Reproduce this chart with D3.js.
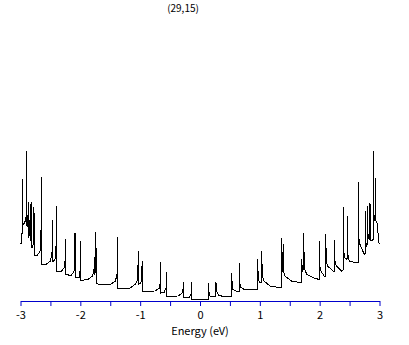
<!DOCTYPE html>
<html>
<head>
<meta charset="utf-8">
<script src="https://cdn.jsdelivr.net/npm/d3@7"></script>
<style>
  body { margin: 0; background: #fff; }
  text { font-family: "Noto Sans CJK JP", "DejaVu Sans", sans-serif; }
</style>
</head>
<body>
<div id="chart"></div>
<script>
// density of states (energy in eV, dos in arbitrary units)
const title = "(29,15)"
const xLabelText = "Energy (eV)"

const energy = [
  -3.000, -2.983, -2.975, -2.970, -2.965, -2.942, -2.917, -2.903, -2.897, -2.891,
  -2.878, -2.870, -2.865, -2.845, -2.836, -2.831, -2.820, -2.813, -2.808, -2.783,
  -2.775, -2.768, -2.724, -2.674, -2.658, -2.653, -2.646, -2.574, -2.507, -2.474,
  -2.465, -2.460, -2.424, -2.407, -2.398, -2.393, -2.323, -2.265, -2.248, -2.245,
  -2.240, -2.156, -2.106, -2.094, -2.089, -2.084, -2.022, -2.001, -1.994, -1.989,
  -1.872, -1.805, -1.772, -1.767, -1.762, -1.747, -1.740, -1.733, -1.671, -1.504,
  -1.421, -1.387, -1.382, -1.377, -1.170, -1.086, -1.041, -1.031, -1.025, -0.986,
  -0.964, -0.958, -0.752, -0.685, -0.664, -0.657, -0.652, -0.602, -0.563, -0.557,
  -0.552, -0.368, -0.301, -0.284, -0.279, -0.272, -0.184, -0.142, -0.139, -0.134,
  0.139, 0.139, 0.147, 0.167, 0.264, 0.267, 0.276, 0.309, 0.368, 0.530,
  0.530, 0.538, 0.552, 0.602, 0.657, 0.657, 0.665, 0.685, 0.752, 0.964,
  0.964, 0.974, 0.994, 1.031, 1.031, 1.041, 1.070, 1.170, 1.366, 1.366,
  1.374, 1.387, 1.392, 1.401, 1.421, 1.533, 1.700, 1.700, 1.710, 1.727,
  1.733, 1.743, 1.783, 1.894, 1.994, 1.994, 2.002, 2.022, 2.078, 2.098,
  2.101, 2.111, 2.134, 2.228, 2.245, 2.245, 2.256, 2.281, 2.368, 2.395,
  2.395, 2.403, 2.424, 2.457, 2.462, 2.470, 2.495, 2.619, 2.646, 2.646,
  2.654, 2.674, 2.746, 2.758, 2.758, 2.766, 2.783, 2.796, 2.796, 2.805,
  2.825, 2.841, 2.841, 2.850, 2.858, 2.892, 2.897, 2.903, 2.917, 2.925,
  2.925, 2.932, 2.942, 2.970, 2.980, 3.000
]

const dos = [
  55, 57, 60, 120, 74, 76, 79, 85, 148, 73,
  74, 97, 62, 66, 95, 59, 62, 97, 52, 56,
  92, 44, 44, 48, 55, 122, 35, 35, 38, 45,
  79, 38, 40, 50, 93, 28, 28, 32, 44, 60,
  25, 24, 28, 38, 66, 22, 22, 30, 58, 19,
  20, 23, 28, 42, 25, 28, 67, 16, 15, 15,
  18, 24, 62, 11.5, 11.5, 15, 20, 48, 15, 17,
  38, 8.3, 8.5, 11, 16, 37, 6.5, 7, 12, 27,
  3.3, 3.5, 6, 10, 17, 2, 2, 6, 17, 0,
  0, 16.7, 8, 3.5, 3, 17.3, 8, 4.5, 3.3, 3.3,
  26.7, 13, 10, 8.5, 8.3, 36.7, 16, 12, 9.7, 9.5,
  40, 20, 17, 16.5, 48.3, 24, 18.5, 13.5, 11.5, 61.7,
  38, 28, 55, 27, 23.3, 18.3, 16.7, 40, 28, 30,
  66.7, 32, 25, 21.7, 20, 58.3, 34, 28.3, 23.3, 23.3,
  65.7, 38, 33.3, 28.3, 28.3, 59, 38, 33.3, 28.3, 29.5,
  92.7, 48, 41.7, 40, 83.3, 45, 38.3, 36.7, 37, 117.7,
  62, 55, 45, 46, 88.3, 60, 53.3, 55, 93.3, 66,
  60, 61, 96.7, 68, 58.3, 60, 148.3, 88, 78.3, 81,
  121.7, 86, 78.3, 75, 58.3, 55
]

const tickValues = [-3, -2.5, -2, -1.5, -1, -0.5, 0, 0.5, 1, 1.5, 2, 2.5, 3]
const tickLabels = ["-3", "", "-2", "", "-1", "", "0", "", "1", "", "2", "", "3"]

const width = 409
const height = 345

const svg = d3.select("#chart")
  .append("svg")
  .attr("width", width)
  .attr("height", height)

const xScale = d3.scaleLinear()
  .domain([-3, 3])
  .range([20.5, 379.5])

const yScale = d3.scaleLinear()
  .domain([0, 150])
  .range([299.5, 149.5])

// axis
const xAxisGen = d3.axisBottom(xScale)
  .tickValues(tickValues)
  .tickFormat((d, i) => tickLabels[i])
  .tickSize(5)
  .tickSizeOuter(0)

const xAxis = svg.append("g")
  .attr("transform", "translate(0,301)")
  .call(xAxisGen)

xAxis.select(".domain").attr("stroke", "#0000cc")
xAxis.selectAll(".tick line").attr("stroke", "#0000cc")
xAxis.selectAll(".tick text")
  .attr("fill", "#000")
  .attr("font-size", "11px")
  .attr("font-family", "'Noto Sans CJK JP', 'DejaVu Sans', sans-serif")
  .attr("dy", "0.9em")

// curve
const points = energy.map((e, i) => [e, dos[i]])

const line = d3.line()
  .x(d => xScale(d[0]))
  .y(d => yScale(d[1]))

svg.append("path")
  .datum(points)
  .attr("d", line)
  .attr("fill", "none")
  .attr("stroke", "#000")
  .attr("stroke-width", 1)
  .attr("shape-rendering", "crispEdges")

// labels
svg.append("text")
  .attr("x", 183)
  .attr("y", 12)
  .attr("text-anchor", "middle")
  .attr("font-size", "10px")
  .text(title)

svg.append("text")
  .attr("x", 200)
  .attr("y", 335)
  .attr("text-anchor", "middle")
  .attr("font-size", "11px")
  .text(xLabelText)
</script>
</body>
</html>
